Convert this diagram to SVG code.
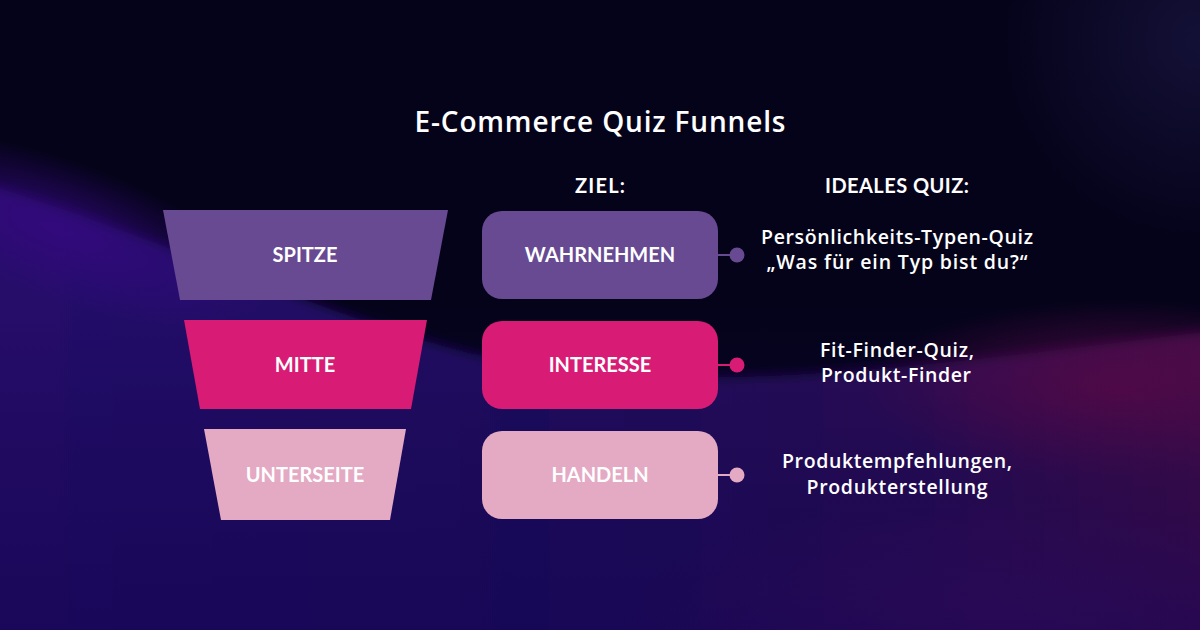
<svg xmlns="http://www.w3.org/2000/svg" width="1200" height="630" viewBox="0 0 1200 630">
<defs>
<linearGradient id="band" x1="0" y1="0" x2="1" y2="0">
<stop offset="0" stop-color="#26086c"/>
<stop offset="0.45" stop-color="#1f0760"/>
<stop offset="0.75" stop-color="#2c0a55"/>
<stop offset="1" stop-color="#4a0a45"/>
</linearGradient>
<linearGradient id="shade" x1="0" y1="0" x2="0" y2="1">
<stop offset="0" stop-color="#0c0340" stop-opacity="0"/>
<stop offset="1" stop-color="#120450" stop-opacity="0.6"/>
</linearGradient>
<radialGradient id="glowL" cx="0.5" cy="0.5" r="0.5">
<stop offset="0" stop-color="#34097e" stop-opacity="0.9"/>
<stop offset="1" stop-color="#34097e" stop-opacity="0"/>
</radialGradient>
<radialGradient id="glowR" cx="0.5" cy="0.5" r="0.5">
<stop offset="0" stop-color="#5e0a48" stop-opacity="0.9"/>
<stop offset="1" stop-color="#5e0a48" stop-opacity="0"/>
</radialGradient>
<radialGradient id="glowB" cx="0.5" cy="0.5" r="0.5">
<stop offset="0" stop-color="#4a1060" stop-opacity="0.8"/>
<stop offset="1" stop-color="#4a1060" stop-opacity="0"/>
</radialGradient>
<radialGradient id="glowT" cx="0.5" cy="0.5" r="0.5">
<stop offset="0" stop-color="#15123a" stop-opacity="0.9"/>
<stop offset="1" stop-color="#15123a" stop-opacity="0"/>
</radialGradient>
<filter id="blur2" x="-20%" y="-20%" width="140%" height="140%"><feGaussianBlur stdDeviation="6"/></filter>
</defs>
<style>
.lbl{font-family:Lato,"Liberation Sans",sans-serif;font-weight:700;fill:#ffffff;text-anchor:middle;font-size:20px}
.ttl{font-family:"Open Sans","Liberation Sans",sans-serif;font-weight:600;fill:#ffffff;text-anchor:middle;font-size:28px}
.desc{font-family:"Open Sans","Liberation Sans",sans-serif;font-weight:600;fill:#ffffff;text-anchor:middle;font-size:19.5px}
.t1{fill:#674a92}
.t2{fill:#d81b74}
.t3{fill:#e4a9c3}
.conn line{stroke-width:2}
</style>
<g id="background">
<rect width="1200" height="630" fill="#05031a"/>
<ellipse cx="1200" cy="40" rx="200" ry="200" fill="url(#glowT)"/>
<path d="M-60,170 C150,230 330,320 480,355 C680,400 900,370 1260,325 L1260,700 L-60,700 Z" fill="url(#band)" filter="url(#blur2)"/>
<ellipse cx="60" cy="230" rx="220" ry="70" fill="url(#glowL)" transform="rotate(20 60 230)"/>
<ellipse cx="1120" cy="390" rx="260" ry="90" fill="url(#glowR)"/>
<ellipse cx="1000" cy="620" rx="380" ry="120" fill="url(#glowB)"/>
<rect y="300" width="1200" height="330" fill="url(#shade)"/>
</g>
<text class="ttl" x="600" y="132" textLength="371" lengthAdjust="spacing">E-Commerce Quiz Funnels</text>
<text class="lbl" x="600" y="193" textLength="50" lengthAdjust="spacing">ZIEL:</text>
<text class="lbl" x="897" y="193" textLength="144" lengthAdjust="spacing">IDEALES QUIZ:</text>
<g id="funnel-top">
<polygon class="t1" points="163,210 448,210 431,300 180,300"/>
<text class="lbl" x="305" y="262">SPITZE</text>
</g>
<g id="funnel-middle">
<polygon class="t2" points="184,320 427,320 411,409 200,409"/>
<text class="lbl" x="305" y="372">MITTE</text>
</g>
<g id="funnel-bottom">
<polygon class="t3" points="204,429 406,429 390,520 221,520"/>
<text class="lbl" x="305" y="482">UNTERSEITE</text>
</g>
<g id="goal-awareness">
<rect class="t1" x="482" y="211" width="236" height="88" rx="20"/>
<text class="lbl" x="600" y="262">WAHRNEHMEN</text>
</g>
<g id="goal-interest">
<rect class="t2" x="482" y="321" width="236" height="88" rx="20"/>
<text class="lbl" x="600" y="372">INTERESSE</text>
</g>
<g id="goal-action">
<rect class="t3" x="482" y="431" width="236" height="88" rx="20"/>
<text class="lbl" x="600" y="482">HANDELN</text>
</g>
<g id="connectors" class="conn">
<line x1="718" y1="255" x2="736" y2="255" stroke="#674a92"/>
<circle cx="737" cy="255" r="7.5" fill="#674a92"/>
<line x1="718" y1="365" x2="736" y2="365" stroke="#d81b74"/>
<circle cx="737" cy="365" r="7.5" fill="#d81b74"/>
<line x1="718" y1="475" x2="736" y2="475" stroke="#e4a9c3"/>
<circle cx="737" cy="475" r="7.5" fill="#e4a9c3"/>
</g>
<g id="quiz-awareness">
<text class="desc" x="897" y="244" textLength="272" lengthAdjust="spacing">Persönlichkeits-Typen-Quiz</text>
<text class="desc" x="897" y="269" textLength="261" lengthAdjust="spacing">„Was für ein Typ bist du?“</text>
</g>
<g id="quiz-interest">
<text class="desc" x="897" y="357" textLength="154" lengthAdjust="spacing">Fit-Finder-Quiz,</text>
<text class="desc" x="896" y="382" textLength="150" lengthAdjust="spacing">Produkt-Finder</text>
</g>
<g id="quiz-action">
<text class="desc" x="897" y="468" textLength="230" lengthAdjust="spacing">Produktempfehlungen,</text>
<text class="desc" x="897" y="494" textLength="181" lengthAdjust="spacing">Produkterstellung</text>
</g>
</svg>
